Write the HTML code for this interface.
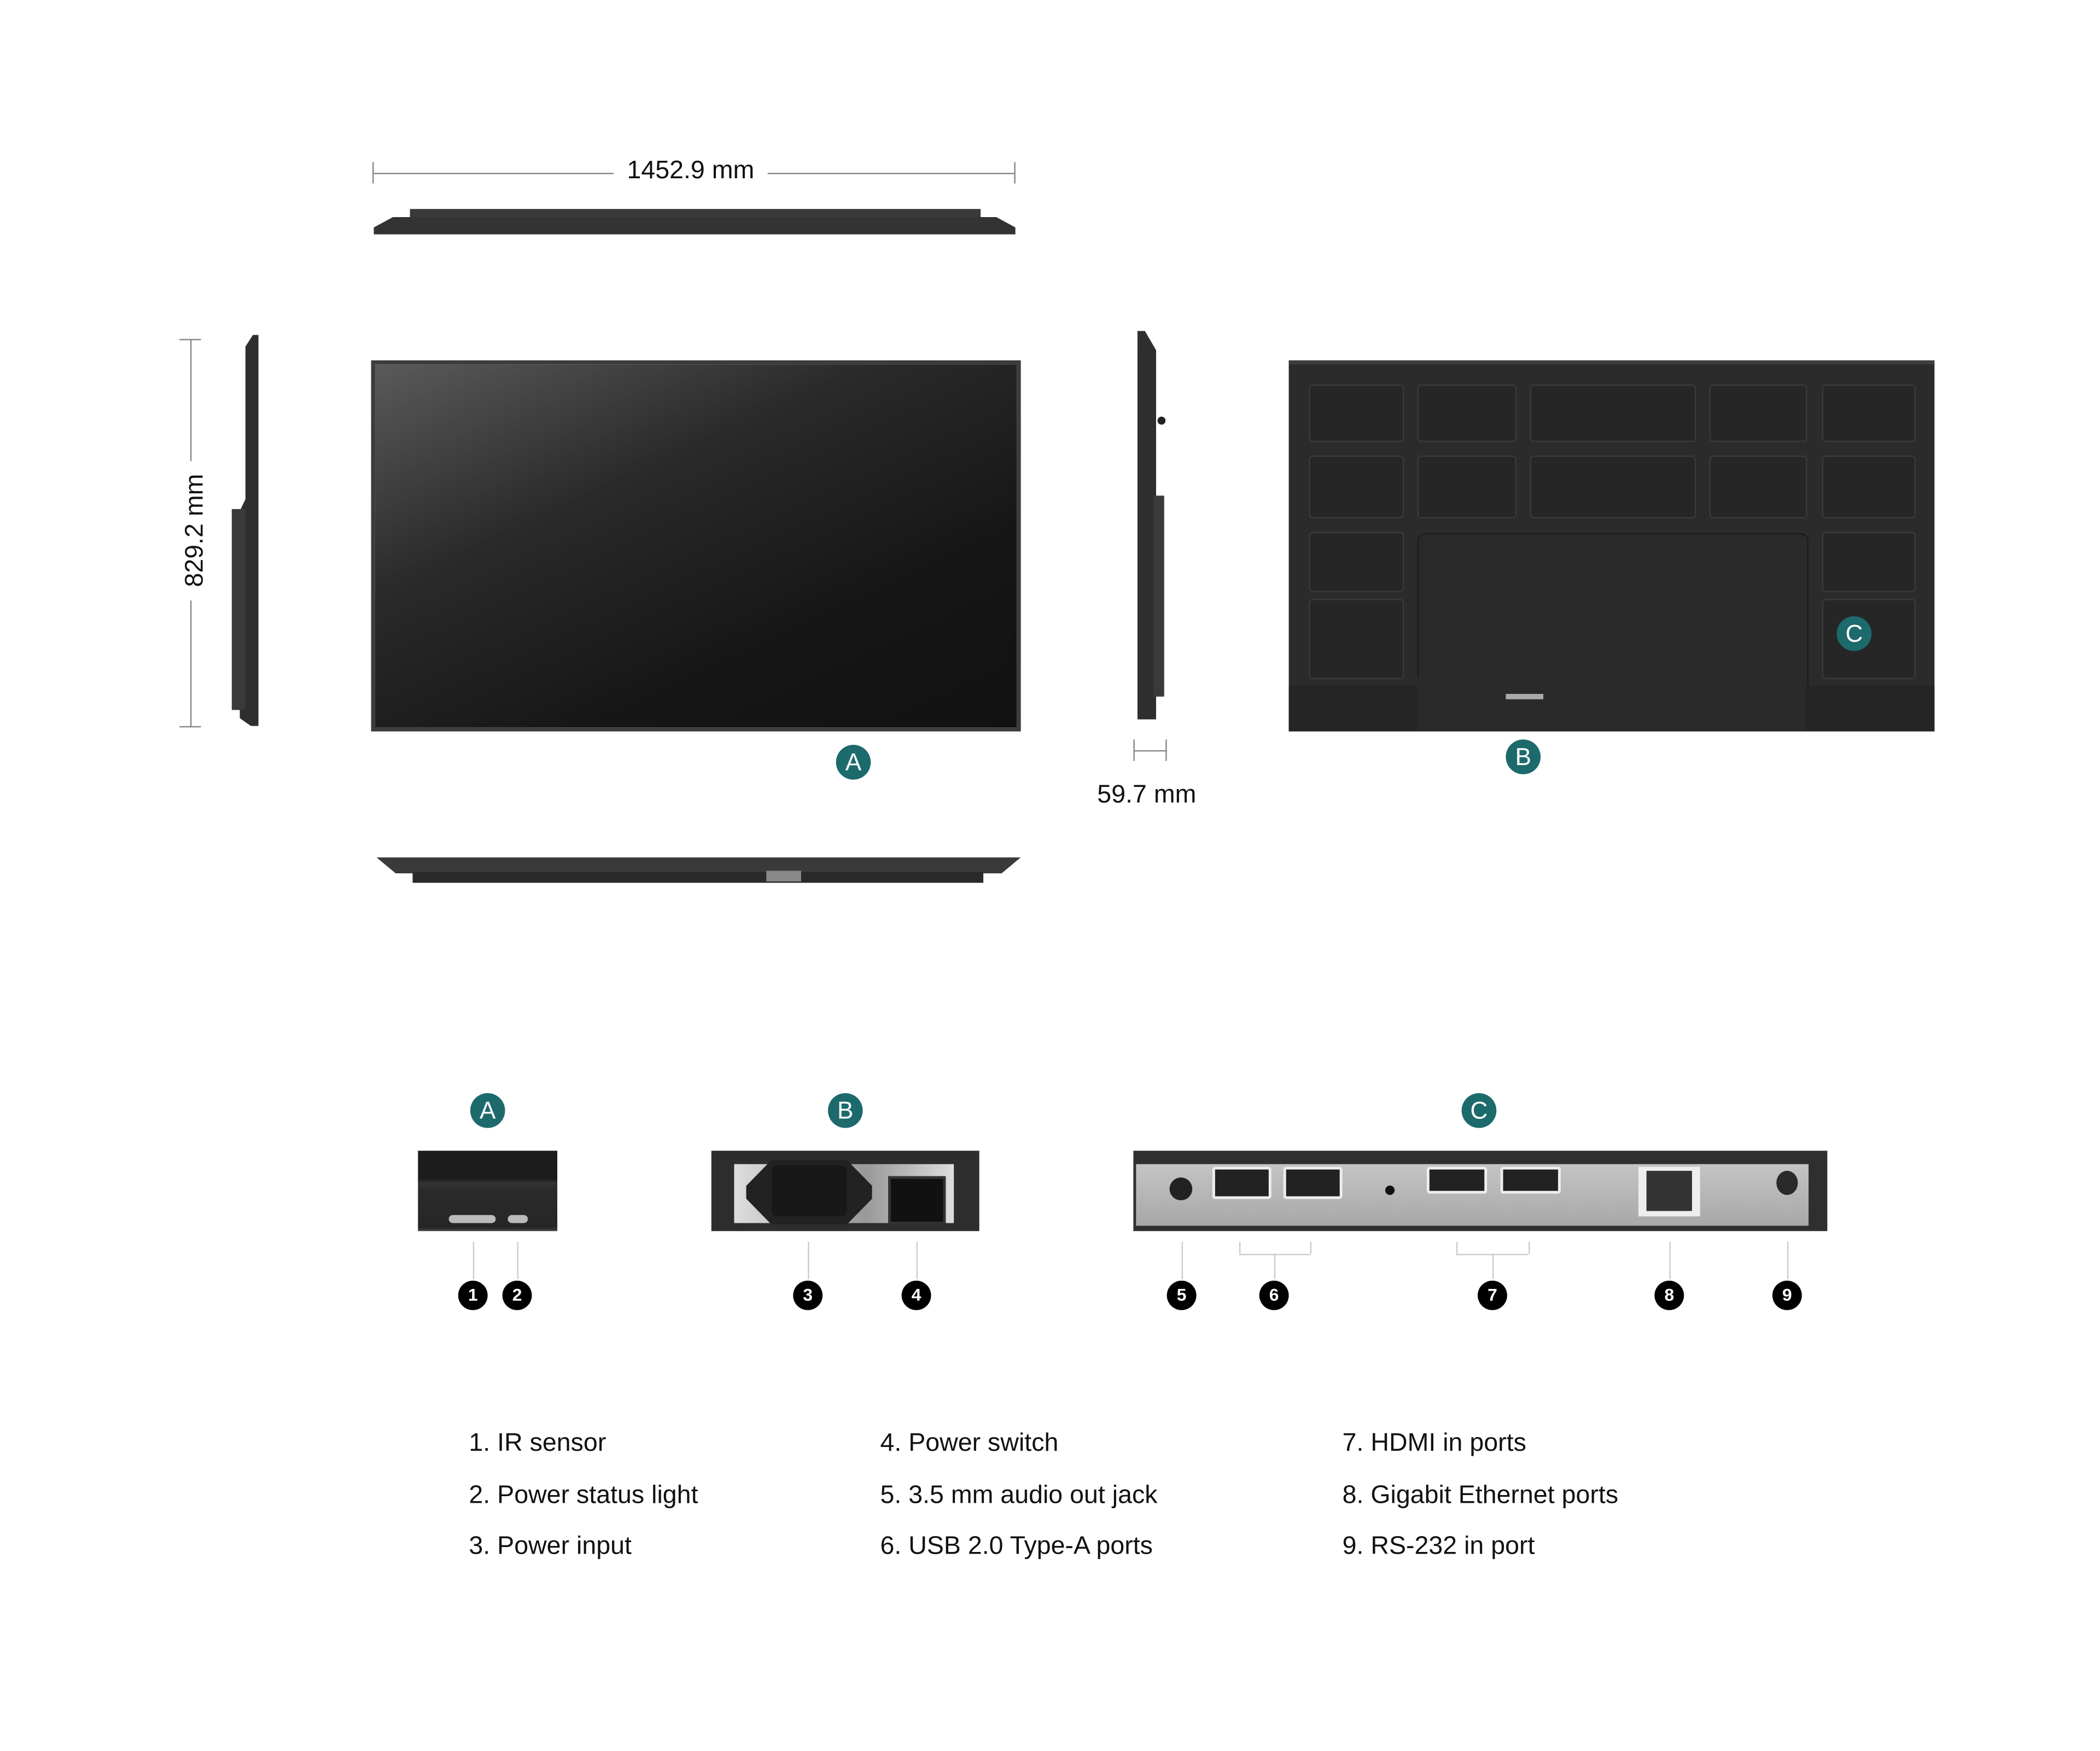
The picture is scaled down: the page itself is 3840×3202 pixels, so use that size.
<!DOCTYPE html>
<html><head><meta charset="utf-8"><style>
html,body{margin:0;padding:0;background:#fff;}
body{width:3840px;height:3200px;overflow:hidden;position:relative;}
#s{position:absolute;left:0;top:0;width:1568px;height:1307px;transform:scale(2.4497);transform-origin:0 0;font-family:"Liberation Sans",sans-serif;color:#111;}
.a{position:absolute;}
.badge{position:absolute;width:26px;height:26px;border-radius:50%;background:#1d6a6d;color:#fff;font-size:18px;line-height:26px;text-align:center;margin:-13px 0 0 -13px;}
.num{position:absolute;width:22px;height:22px;border-radius:50%;background:#000;color:#fff;font-size:13px;font-weight:bold;line-height:22px;text-align:center;margin:-11px 0 0 -11px;}
.vl{position:absolute;width:1px;background:#ccc;}
.p{position:absolute;background:#262626;border:1px solid #3a3a3a;border-radius:3px;}
.t{position:absolute;font-size:19px;white-space:nowrap;}
</style></head><body><div id="s">
<div class="a" style="left:278px;top:129px;width:480px;height:1px;background:#888"></div>
<div class="a" style="left:278px;top:121px;width:1px;height:16px;background:#888"></div>
<div class="a" style="left:757px;top:121px;width:1px;height:16px;background:#888"></div>
<div class="t" style="left:458px;top:117px;background:#fff;padding:0 10px;">1452.9 mm</div>
<div class="a" style="left:306px;top:156px;width:426px;height:7px;background:#3a3a3a"></div>
<div class="a" style="left:279px;top:162px;width:479px;height:13px;background:#333;clip-path:polygon(3% 0,97% 0,100% 60%,100% 100%,0 100%,0 60%)"></div>
<div class="a" style="left:142px;top:253px;width:1px;height:290px;background:#888"></div>
<div class="a" style="left:134px;top:253px;width:16px;height:1px;background:#888"></div>
<div class="a" style="left:134px;top:542px;width:16px;height:1px;background:#888"></div>
<div class="t" style="left:94px;top:385px;transform:rotate(-90deg);background:#fff;padding:0 10px;">829.2 mm</div>
<div class="a" style="left:179px;top:250px;width:14px;height:292px;background:#2e2e2e;clip-path:polygon(70% 0,100% 0,100% 100%,60% 100%,0 98%,0 45%,30% 42%,30% 3%)"></div>
<div class="a" style="left:173px;top:380px;width:10px;height:150px;background:#3a3a3a"></div>
<div class="a" style="left:277px;top:269px;width:479px;height:271px;border:3px solid #3c3c3c;background:linear-gradient(155deg,#5a5a5a 0%,#2a2a2a 35%,#161616 70%,#111 100%)"></div>
<div class="badge" style="left:637px;top:569px">A</div>
<div class="a" style="left:849px;top:247px;width:14px;height:290px;background:#2e2e2e;clip-path:polygon(0 0,40% 0,100% 5%,100% 100%,0 100%)"></div>
<div class="a" style="left:861px;top:370px;width:8px;height:150px;background:#3a3a3a"></div>
<div class="a" style="left:864px;top:311px;width:6px;height:6px;background:#222;border-radius:50%"></div>
<div class="a" style="left:846px;top:552px;width:1px;height:16px;background:#888"></div>
<div class="a" style="left:870px;top:552px;width:1px;height:16px;background:#888"></div>
<div class="a" style="left:846px;top:560px;width:25px;height:1px;background:#888"></div>
<div class="t" style="left:819px;top:583px;">59.7 mm</div>
<div class="a" style="left:962px;top:269px;width:482px;height:277px;background:#2b2b2b;border-top:3px solid #3e3e3e;box-sizing:border-box"></div>
<div class="p" style="left:977px;top:287px;width:69px;height:41px"></div>
<div class="p" style="left:1058px;top:287px;width:72px;height:41px"></div>
<div class="p" style="left:1142px;top:287px;width:122px;height:41px"></div>
<div class="p" style="left:1276px;top:287px;width:71px;height:41px"></div>
<div class="p" style="left:1360px;top:287px;width:68px;height:41px"></div>
<div class="p" style="left:977px;top:340px;width:69px;height:45px"></div>
<div class="p" style="left:1058px;top:340px;width:72px;height:45px"></div>
<div class="p" style="left:1142px;top:340px;width:122px;height:45px"></div>
<div class="p" style="left:1276px;top:340px;width:71px;height:45px"></div>
<div class="p" style="left:1360px;top:340px;width:68px;height:45px"></div>
<div class="p" style="left:977px;top:397px;width:69px;height:43px"></div>
<div class="p" style="left:977px;top:447px;width:69px;height:58px"></div>
<div class="p" style="left:1360px;top:397px;width:68px;height:43px"></div>
<div class="p" style="left:1360px;top:447px;width:68px;height:58px"></div>
<div class="a" style="left:1058px;top:398px;width:290px;height:118px;background:#2a2a2a;border:1px solid #1c1c1c;border-radius:6px 6px 0 0"></div>
<div class="a" style="left:962px;top:512px;width:482px;height:34px;background:#252525"></div>
<div class="a" style="left:1058px;top:505px;width:290px;height:41px;background:#2a2a2a"></div>
<div class="a" style="left:1124px;top:518px;width:28px;height:4px;background:#aaa"></div>
<div class="badge" style="left:1384px;top:473px">C</div>
<div class="badge" style="left:1137px;top:565px">B</div>
<div class="a" style="left:281px;top:640px;width:481px;height:12px;background:#3a3a3a;clip-path:polygon(0 0,100% 0,97% 100%,3% 100%)"></div>
<div class="a" style="left:308px;top:651px;width:426px;height:8px;background:#2a2a2a"></div>
<div class="a" style="left:572px;top:650px;width:26px;height:8px;background:#888"></div>
<div class="badge" style="left:364px;top:829px">A</div>
<div class="badge" style="left:631px;top:829px">B</div>
<div class="badge" style="left:1104px;top:829px">C</div>
<div class="a" style="left:312px;top:859px;width:104px;height:60px;background:linear-gradient(#1c1c1c 0,#1c1c1c 35%,#333 40%,#2a2a2a 50%,#262626 95%,#444 100%)"></div>
<div class="a" style="left:335px;top:907px;width:35px;height:6px;background:#bbb;border-radius:3px"></div>
<div class="a" style="left:379px;top:907px;width:15px;height:6px;background:#bbb;border-radius:3px"></div>
<div class="a" style="left:531px;top:859px;width:200px;height:60px;background:#2d2d2d"></div>
<div class="a" style="left:548px;top:869px;width:164px;height:44px;background:linear-gradient(90deg,#ddd,#999 60%,#ddd);"></div>
<div class="a" style="left:557px;top:866px;width:94px;height:48px;background:#222;clip-path:polygon(20% 0,80% 0,100% 40%,100% 60%,80% 100%,20% 100%,0 60%,0 40%)"></div>
<div class="a" style="left:576px;top:870px;width:56px;height:38px;background:#181818;border-radius:4px"></div>
<div class="a" style="left:663px;top:878px;width:39px;height:32px;background:#111;border:2px solid #333"></div>
<div class="a" style="left:846px;top:859px;width:518px;height:60px;background:#2f2f2f"></div>
<div class="a" style="left:848px;top:869px;width:502px;height:46px;background:linear-gradient(#c4c4c4,#a8a8a8)"></div>
<div class="a" style="left:873px;top:879px;width:17px;height:17px;border-radius:50%;background:#222"></div>
<div class="a" style="left:905px;top:871px;width:40px;height:20px;background:#222;border:2px solid #eee;border-radius:2px"></div>
<div class="a" style="left:958px;top:871px;width:40px;height:20px;background:#222;border:2px solid #eee;border-radius:2px"></div>
<div class="a" style="left:1034px;top:885px;width:7px;height:7px;border-radius:50%;background:#111"></div>
<div class="a" style="left:1065px;top:871px;width:41px;height:16px;background:#222;border:2px solid #eee;border-radius:2px"></div>
<div class="a" style="left:1120px;top:871px;width:41px;height:16px;background:#222;border:2px solid #eee;border-radius:2px"></div>
<div class="a" style="left:1223px;top:871px;width:46px;height:37px;background:#eee"></div>
<div class="a" style="left:1229px;top:874px;width:34px;height:30px;background:#333"></div>
<div class="a" style="left:1326px;top:874px;width:16px;height:18px;border-radius:50%;background:#2a2a2a"></div>
<div class="vl" style="left:353px;top:927px;height:28px"></div>
<div class="vl" style="left:386px;top:927px;height:28px"></div>
<div class="vl" style="left:603px;top:927px;height:28px"></div>
<div class="vl" style="left:684px;top:927px;height:28px"></div>
<div class="vl" style="left:882px;top:927px;height:28px"></div>
<div class="vl" style="left:951px;top:936px;height:19px"></div>
<div class="vl" style="left:1114px;top:936px;height:19px"></div>
<div class="vl" style="left:1246px;top:927px;height:28px"></div>
<div class="vl" style="left:1334px;top:927px;height:28px"></div>
<div class="a" style="left:925px;top:936px;width:53px;height:1px;background:#ccc"></div>
<div class="vl" style="left:925px;top:927px;height:9px"></div><div class="vl" style="left:978px;top:927px;height:9px"></div>
<div class="a" style="left:1087px;top:936px;width:54px;height:1px;background:#ccc"></div>
<div class="vl" style="left:1087px;top:927px;height:9px"></div><div class="vl" style="left:1141px;top:927px;height:9px"></div>
<div class="num" style="left:353px;top:967px">1</div>
<div class="num" style="left:386px;top:967px">2</div>
<div class="num" style="left:603px;top:967px">3</div>
<div class="num" style="left:684px;top:967px">4</div>
<div class="num" style="left:882px;top:967px">5</div>
<div class="num" style="left:951px;top:967px">6</div>
<div class="num" style="left:1114px;top:967px">7</div>
<div class="num" style="left:1246px;top:967px">8</div>
<div class="num" style="left:1334px;top:967px">9</div>
<div class="t" style="left:350px;top:1067px">1. IR sensor</div>
<div class="t" style="left:350px;top:1106px">2. Power status light</div>
<div class="t" style="left:350px;top:1144px">3. Power input</div>
<div class="t" style="left:657px;top:1067px">4. Power switch</div>
<div class="t" style="left:657px;top:1106px">5. 3.5 mm audio out jack</div>
<div class="t" style="left:657px;top:1144px">6. USB 2.0 Type-A ports</div>
<div class="t" style="left:1002px;top:1067px">7. HDMI in ports</div>
<div class="t" style="left:1002px;top:1106px">8. Gigabit Ethernet ports</div>
<div class="t" style="left:1002px;top:1144px">9. RS-232 in port</div>
</div></body></html>
